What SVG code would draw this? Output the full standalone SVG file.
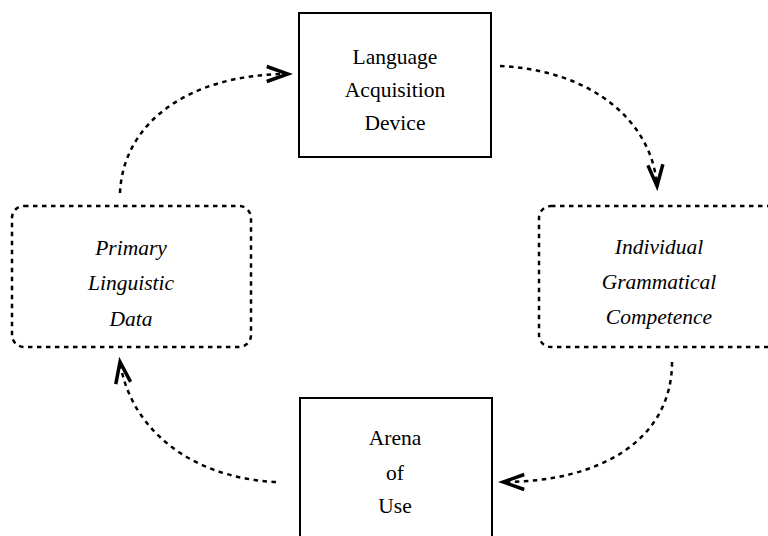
<svg xmlns="http://www.w3.org/2000/svg" width="768" height="536" viewBox="0 0 768 536">
  <style>
    .solid { fill: none; stroke: #000; stroke-width: 2; }
    .dashed { fill: none; stroke: #000; stroke-width: 2.5; stroke-dasharray: 4.5 4.5; }
    .flow { fill: none; stroke: #000; stroke-width: 2.5; stroke-dasharray: 4.5 4.5; }
    .label { font-family: "Liberation Serif", "Times New Roman", serif; font-size: 21.5px; text-anchor: middle; fill: #000; }
    .it { font-style: italic; }
  </style>
  <defs>
    <marker id="head" markerUnits="userSpaceOnUse" markerWidth="30" markerHeight="30" viewBox="-20 -10 24 20" refX="0" refY="0" orient="auto">
      <path d="M-17,-6 L0,0 L-17,6" fill="none" stroke="#000" stroke-width="2.8" stroke-dasharray="none" stroke-linejoin="miter"/>
    </marker>
  </defs>
  <rect width="768" height="536" fill="#fff"/>

  <g id="lad">
    <rect class="solid" x="299" y="13" width="192" height="144"/>
    <text class="label" x="395" y="64">Language</text>
    <text class="label" x="395" y="97">Acquisition</text>
    <text class="label" x="395" y="130">Device</text>
  </g>

  <g id="pld">
    <rect class="dashed" x="12" y="206" width="239" height="141" rx="12"/>
    <text class="label it" x="131" y="255">Primary</text>
    <text class="label it" x="131" y="290">Linguistic</text>
    <text class="label it" x="131" y="326">Data</text>
  </g>

  <g id="igc">
    <rect class="dashed" x="539" y="206" width="240" height="141" rx="12"/>
    <text class="label it" x="659" y="254">Individual</text>
    <text class="label it" x="659" y="289">Grammatical</text>
    <text class="label it" x="659" y="324">Competence</text>
  </g>

  <g id="arena">
    <rect class="solid" x="300" y="398" width="192" height="150"/>
    <text class="label" x="395" y="445">Arena</text>
    <text class="label" x="395" y="480">of</text>
    <text class="label" x="395" y="513">Use</text>
  </g>

  <g id="connectors">
    <path class="flow" d="M120,193 C123,122 190,74 288,74" marker-end="url(#head)"/>
    <path class="flow" d="M500,66 C590,70 652,120 657,186" marker-end="url(#head)"/>
    <path class="flow" d="M672,362 C672,440 600,482 503,482" marker-end="url(#head)"/>
    <path class="flow" d="M276,482 C190,478 130,428 120,362" marker-end="url(#head)"/>
  </g>
</svg>
